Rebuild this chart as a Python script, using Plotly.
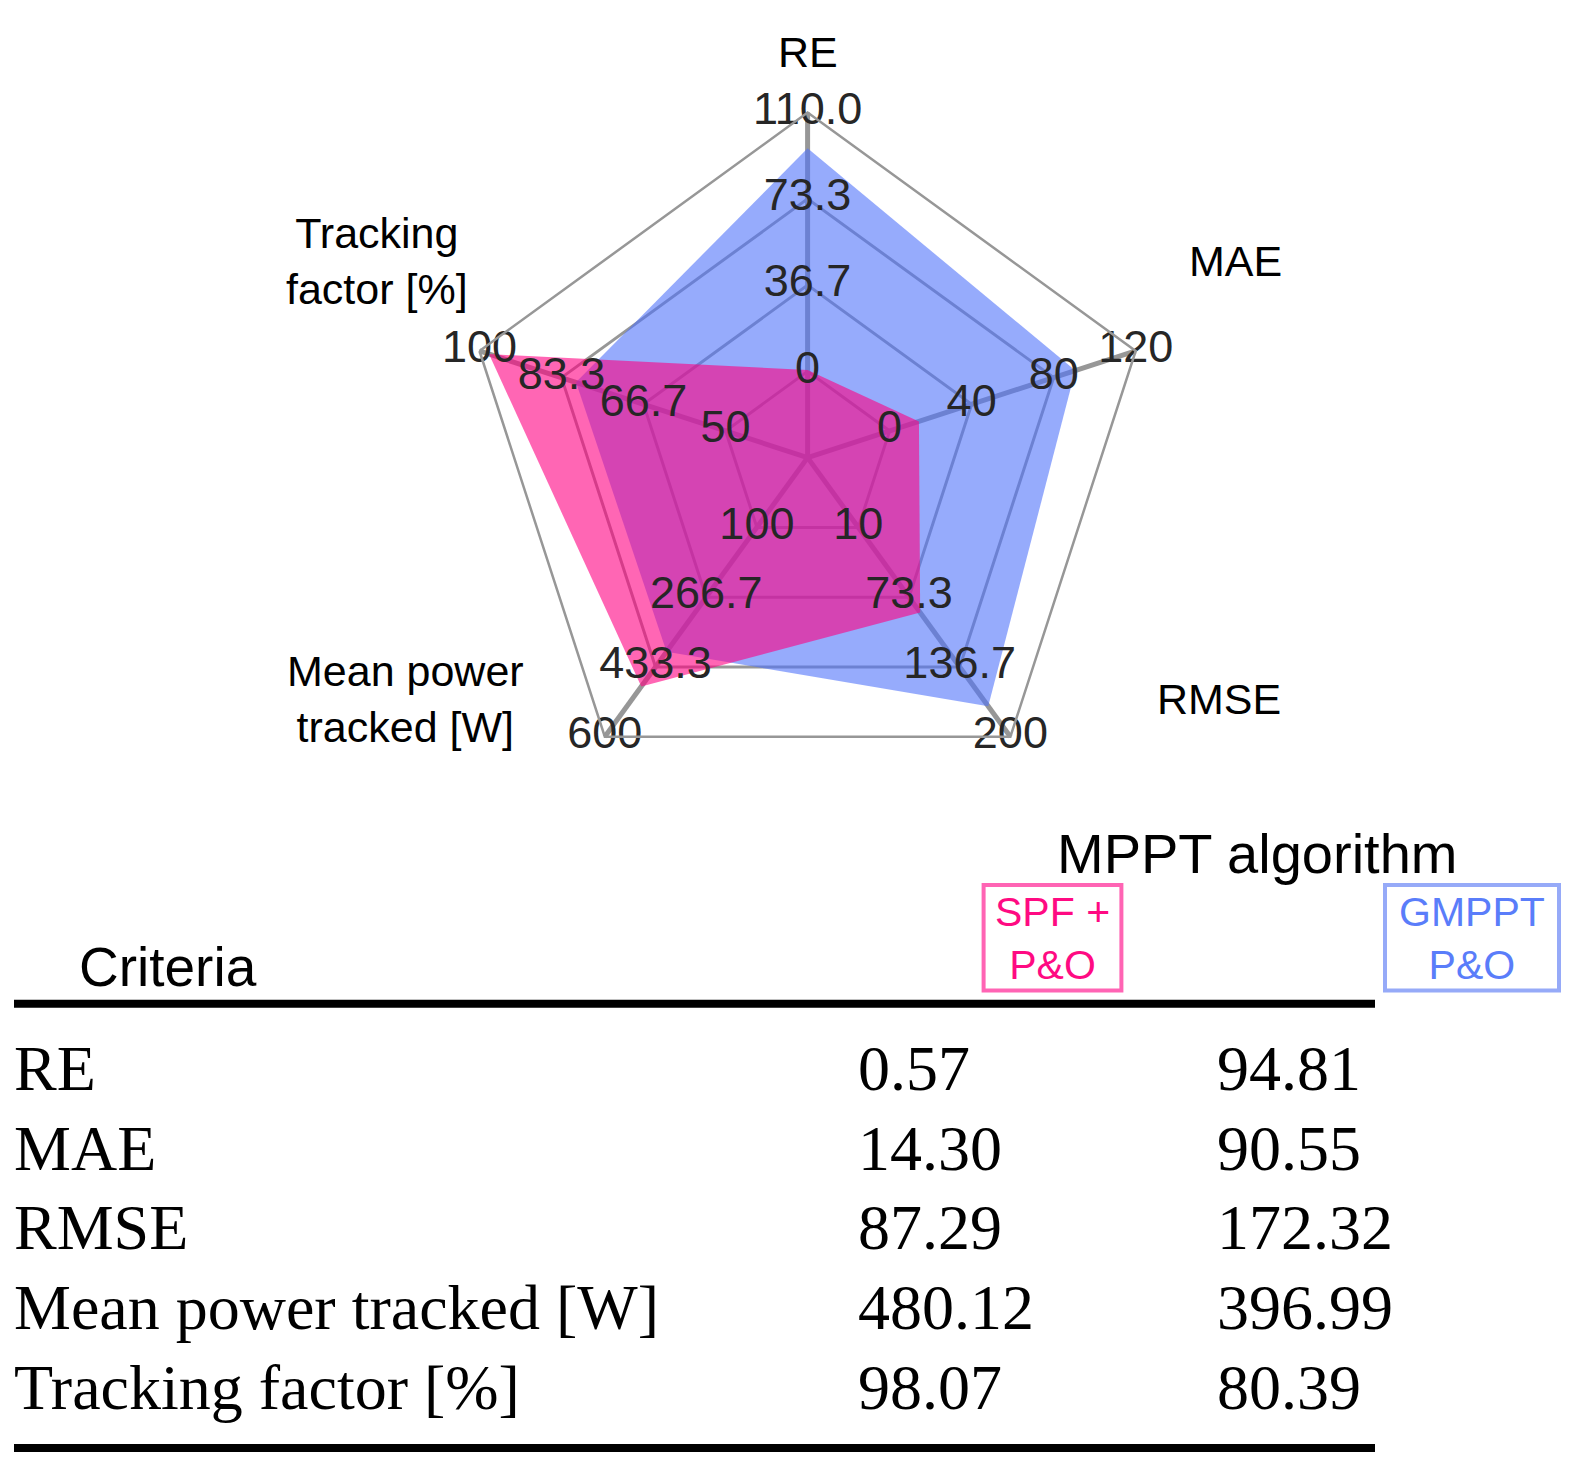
import plotly.graph_objects as go

# =========================================
# Data
# =========================================

criteria = ["RE", "MAE", "RMSE", "Mean power tracked [W]", "Tracking factor [%]"]
axis_titles = ["RE", "MAE", "RMSE", "Mean power<br>tracked [W]", "Tracking<br>factor [%]"]

# tick labels shown on each spoke (inner ring -> outer ring)
ticks_re = ["0", "36.7", "73.3", "110.0"]
ticks_mae = ["0", "40", "80", "120"]
ticks_rmse = ["10", "73.3", "136.7", "200"]
ticks_power = ["100", "266.7", "433.3", "600"]
ticks_tf = ["50", "66.7", "83.3", "100"]

spf_values = [0.57, 14.30, 87.29, 480.12, 98.07]
gmppt_values = [94.81, 90.55, 172.32, 396.99, 80.39]

spf_table = ["0.57", "14.30", "87.29", "480.12", "98.07"]
gmppt_table = ["94.81", "90.55", "172.32", "396.99", "80.39"]

W, H = 1577, 1479
OFF = 8  # page body margin

PINK = "rgba(255,0,130,0.6)"
BLUE = "rgba(80,115,250,0.6)"
GRID = "#979797"

all_ticks = [ticks_re, ticks_mae, ticks_rmse, ticks_power, ticks_tf]
ring_r = [0.25, 0.5, 0.75, 1.0]


def scale(values):
    # each axis has its own range, mapped onto rings 0.25 .. 1.0
    out = []
    for v, t in zip(values, all_ticks):
        lo, hi = float(t[0]), float(t[-1])
        out.append(0.25 + 0.75 * (v - lo) / (hi - lo))
    return out


def px(x):
    return (x - OFF) / W


def py(y):
    return 1 - (y - OFF) / H


fig = go.Figure()

# =========================================
# Radar fills
# =========================================

fig.add_trace(go.Scatterpolar(
    r=scale(gmppt_values),
    theta=criteria,
    fill="toself",
    fillcolor=BLUE,
    line=dict(width=0, color=BLUE),
    mode="lines",
    name="GMPPT P&O",
))

fig.add_trace(go.Scatterpolar(
    r=scale(spf_values),
    theta=criteria,
    fill="toself",
    fillcolor=PINK,
    line=dict(width=0, color=PINK),
    mode="lines",
    name="SPF + P&O",
))

# =========================================
# Per-axis tick labels
# =========================================

for name, ticks in zip(criteria, all_ticks):
    fig.add_trace(go.Scatterpolar(
        r=ring_r,
        theta=[name] * 4,
        mode="text",
        text=ticks,
        textposition="middle center",
        textfont=dict(family="Liberation Sans", size=45, color="#262626"),
        cliponaxis=False,
        showlegend=False,
    ))

# =========================================
# Layout
# =========================================

cx, cy, R = 807.6, 457.6, 345

fig.update_layout(
    width=W,
    height=H,
    margin=dict(l=0, r=0, t=0, b=0),
    paper_bgcolor="white",
    plot_bgcolor="white",
    showlegend=False,
    polar=dict(
        domain=dict(x=[px(cx - R), px(cx + R)], y=[py(cy + R), py(cy - R)]),
        bgcolor="rgba(0,0,0,0)",
        gridshape="linear",
        radialaxis=dict(
            range=[0, 1],
            tickvals=ring_r,
            showticklabels=False,
            ticks="",
            showline=False,
            gridcolor=GRID,
            gridwidth=2.5,
        ),
        angularaxis=dict(
            rotation=90,
            direction="clockwise",
            showticklabels=False,
            ticks="",
            showline=True,
            linecolor=GRID,
            linewidth=2.5,
            gridcolor=GRID,
            gridwidth=5,
        ),
    ),
)

# axis titles around the radar
title_pos = [(807.6, 52), (1235, 261), (1219, 699), (405, 699), (377, 261)]
for txt, (x, y) in zip(axis_titles, title_pos):
    fig.add_annotation(
        x=px(x), y=py(y), xref="paper", yref="paper",
        text=txt, showarrow=False,
        xanchor="center", yanchor="middle",
        font=dict(family="Liberation Sans", size=43, color="black"),
    )

# =========================================
# Table
# =========================================

fig.add_annotation(
    x=px(1257), y=py(853), xref="paper", yref="paper",
    text="MPPT algorithm", showarrow=False,
    xanchor="center", yanchor="middle",
    font=dict(family="Liberation Sans", size=56, color="black"),
)

fig.add_annotation(
    x=px(168), y=py(967), xref="paper", yref="paper",
    text="Criteria", showarrow=False,
    xanchor="center", yanchor="middle",
    font=dict(family="Liberation Sans", size=55, color="black"),
)

# legend boxes
fig.add_shape(type="rect", xref="paper", yref="paper",
              x0=px(983.6), x1=px(1121.4), y0=py(990.6), y1=py(885),
              line=dict(color="#ff64b4", width=4))
fig.add_shape(type="rect", xref="paper", yref="paper",
              x0=px(1385), x1=px(1559), y0=py(990.6), y1=py(885),
              line=dict(color="#96aaf8", width=4))

fig.add_annotation(
    x=px(1052.5), y=py(938), xref="paper", yref="paper",
    text="SPF +<br>P&O", showarrow=False,
    xanchor="center", yanchor="middle",
    font=dict(family="Liberation Sans", size=41, color="#ff0a82"),
)
fig.add_annotation(
    x=px(1472), y=py(938), xref="paper", yref="paper",
    text="GMPPT<br>P&O", showarrow=False,
    xanchor="center", yanchor="middle",
    font=dict(family="Liberation Sans", size=41, color="#5a7dfa"),
)

# rules
for y in [1003.7, 1448]:
    fig.add_shape(type="line", xref="paper", yref="paper",
                  x0=px(14), x1=px(1375), y0=py(y), y1=py(y),
                  line=dict(color="black", width=8))

row_y = [1068, 1148, 1227, 1307, 1387]
serif = dict(family="Liberation Serif", size=64, color="black")
for name, a, b, y in zip(criteria, spf_table, gmppt_table, row_y):
    for txt, x in [(name, 12), (a, 856), (b, 1215)]:
        fig.add_annotation(
            x=px(x), y=py(y), xref="paper", yref="paper",
            text=txt, showarrow=False,
            xanchor="left", yanchor="middle",
            font=serif,
        )

fig.write_html("out.html")
